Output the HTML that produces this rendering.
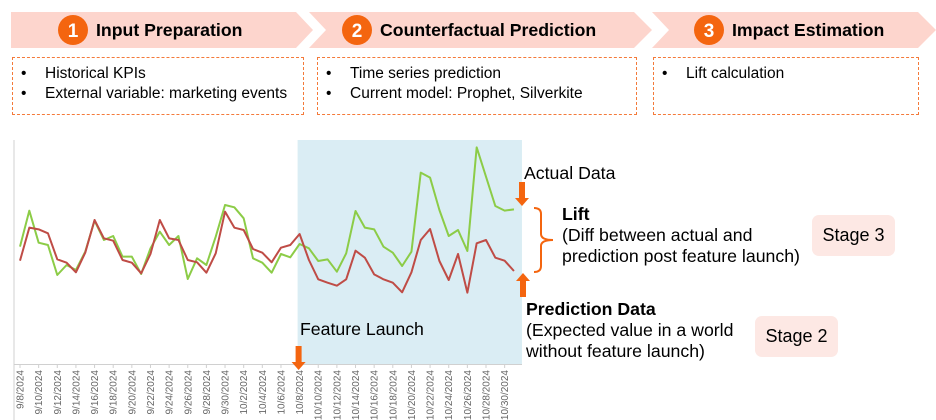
<!DOCTYPE html>
<html><head><meta charset="utf-8"><style>
body{margin:0;width:936px;height:420px;background:#fff;font-family:"Liberation Sans",Arial,sans-serif;position:relative;overflow:hidden}
.t{position:absolute;white-space:nowrap;color:#000}
.box{position:absolute;border:1.5px dashed #f47a3a;box-sizing:border-box}
.box ul{margin:6px 0 0 0;padding-left:0;list-style:none;font-size:15.5px;line-height:19.5px}
.box li{position:relative;padding-left:32px}
.box li:before{content:"•";position:absolute;left:8px}
.stage{position:absolute;background:#fde8e4;border-radius:7px;font-size:18px;display:flex;align-items:center;justify-content:center}
</style></head><body>
<svg width="936" height="420" style="position:absolute;left:0;top:0">
 <polygon points="11,12 296,12 313,30 296,48 11,48" fill="#fdd5cd"/>
 <polygon points="309,12 634,12 652,30 634,48 309,48 326,30" fill="#fdd5cd"/>
 <polygon points="652,12 918,12 936,30 918,48 652,48 669,30" fill="#fdd5cd"/>
 <circle cx="73" cy="30" r="15" fill="#f4650f"/>
 <circle cx="357" cy="30" r="15" fill="#f4650f"/>
 <circle cx="709" cy="30" r="15" fill="#f4650f"/>
 <text x="73" y="37" text-anchor="middle" font-size="19" font-weight="bold" fill="#fff" font-family="Liberation Sans">1</text>
 <text x="357" y="37" text-anchor="middle" font-size="19" font-weight="bold" fill="#fff" font-family="Liberation Sans">2</text>
 <text x="709" y="37" text-anchor="middle" font-size="19" font-weight="bold" fill="#fff" font-family="Liberation Sans">3</text>
 <text x="96" y="36" font-size="17.7" font-weight="bold" font-family="Liberation Sans">Input Preparation</text>
 <text x="380" y="36" font-size="17.7" font-weight="bold" font-family="Liberation Sans">Counterfactual Prediction</text>
 <text x="732" y="36" font-size="17.7" font-weight="bold" font-family="Liberation Sans">Impact Estimation</text>
 <g id="chart"></g>
</svg>
<div class="box" style="left:12px;top:57px;width:292px;height:58px"><ul><li>Historical KPIs</li><li>External variable: marketing events</li></ul></div>
<div class="box" style="left:317px;top:57px;width:320px;height:58px"><ul><li>Time series prediction</li><li>Current model: Prophet, Silverkite</li></ul></div>
<div class="box" style="left:653px;top:57px;width:266px;height:58px"><ul><li>Lift calculation</li></ul></div>
<div class="t" style="left:524px;top:163px;font-size:17.7px">Actual Data</div>
<div class="t" style="left:562px;top:204px;font-size:17.7px;line-height:21px"><b>Lift</b><br>(Diff between actual and<br>prediction post feature launch)</div>
<div class="t" style="left:526px;top:299px;font-size:17.7px;line-height:21px"><b>Prediction Data</b><br>(Expected value in a world<br>without feature launch)</div>
<div class="t" style="left:300px;top:319px;font-size:17.7px">Feature Launch</div>
<div class="stage" style="left:812px;top:215px;width:83px;height:41px">Stage 3</div>
<div class="stage" style="left:755px;top:316px;width:83px;height:41px">Stage 2</div>
<script>
const dates=[];for(let i=0;i<54;i++){const d=new Date(2024,8,8+i);dates.push((d.getMonth()+1)+'/'+d.getDate()+'/2024');}
const actual=[250,358,262,255,165,195,180,235,328,270,282,220,220,168,245,295,255,282,153,215,195,280,375,368,335,215,202,172,228,218,258,245,207,212,175,230,357,307,302,250,232,192,235,472,457,360,282,300,237,548,460,372,358,362];
const predicted=[208,307,302,290,212,202,173,232,330,275,268,210,202,170,228,330,275,270,210,203,172,230,355,307,300,243,232,203,247,255,288,210,152,142,133,152,238,217,167,152,142,113,173,270,303,207,150,228,112,260,270,217,208,177];
const launchIndex=30;
const NS="http://www.w3.org/2000/svg";
const g=document.getElementById('chart');
const x0=20,dx=9.32;
const xs=i=>x0+i*dx;
const ys=v=>330-v/3;
function mk(t,a){const e=document.createElementNS(NS,t);for(const k in a)e.setAttribute(k,a[k]);g.appendChild(e);return e;}
const shade=mk('rect',{x:xs(launchIndex)-2,y:140,width:xs(53)-xs(launchIndex)+10,height:224,fill:'#daedf4'});


const yax=mk('line',{x1:14,y1:140,x2:14,y2:420,stroke:'#d0d0d0','stroke-width':1});


const xax=mk('line',{x1:14,y1:364.5,x2:522,y2:364.5,stroke:'#d0d0d0','stroke-width':1});


for(let i=0;i<dates.length;i+=2){
 const x=xs(i);
 const tk=mk('line',{x1:x,y1:364,x2:x,y2:368,stroke:'#d0d0d0'});
 
 
 const t=mk('text',{x:0,y:0,'font-size':10,fill:'#666','font-family':'Liberation Sans','text-anchor':'end',transform:`translate(${x+3.5},370) rotate(-90)`});
 t.textContent=dates[i];
 
 
}
function line(arr,color,name){
 const p=mk('polyline',{points:arr.map((v,i)=>xs(i)+','+ys(v)).join(' '),fill:'none',stroke:color,'stroke-width':2,'stroke-linejoin':'round'});
 
 
}
line(actual,'#8ccc47','actual-data-line');
line(predicted,'#bf4c46','prediction-line');
function arrow(x,ytop,down,name){
 const h=24,yb=ytop+h;
 const pts=down?`${x-3},${ytop} ${x+3},${ytop} ${x+3},${yb-8} ${x+7},${yb-8} ${x},${yb} ${x-7},${yb-8} ${x-3},${yb-8}`
 :`${x},${ytop} ${x+7},${ytop+8} ${x+3},${ytop+8} ${x+3},${yb} ${x-3},${yb} ${x-3},${ytop+8} ${x-7},${ytop+8}`;
 const a=mk('polygon',{points:pts,fill:'#f4650f'});
 
 
}
arrow(522,182,true,'actual-data-arrow');
arrow(523,273,false,'prediction-data-arrow');
arrow(xs(launchIndex)-1,346,true,'feature-launch-arrow');
const br=mk('path',{d:'M534,208 Q541,208 541,214 L541,234 Q541,240 553,240 Q541,240 541,246 L541,266 Q541,272 534,272',fill:'none',stroke:'#f4650f','stroke-width':2});


</script>
</body></html>
